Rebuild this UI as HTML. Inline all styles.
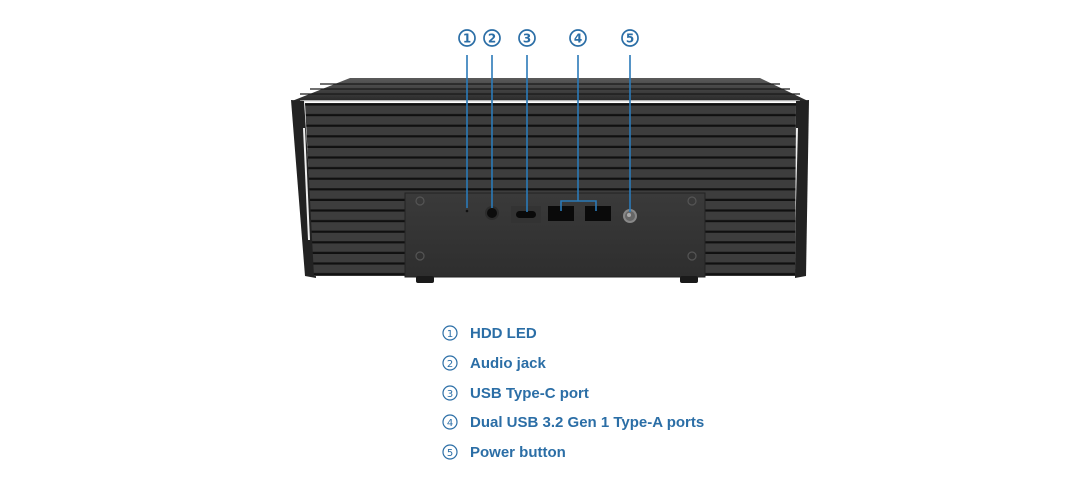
<!DOCTYPE html>
<html><head><meta charset="utf-8"><style>
html,body{margin:0;padding:0;background:#fff;width:1069px;height:504px;overflow:hidden}
svg{display:block}
.t{font-family:"Liberation Sans","DejaVu Sans",sans-serif;font-weight:bold;font-size:15px;fill:#2b6ea6}
.n{font-family:"DejaVu Sans","Liberation Sans",sans-serif;font-size:12px;font-weight:bold;fill:#2b6ea6}
.m{font-family:"DejaVu Sans","Liberation Sans",sans-serif;font-size:10px;font-weight:normal;fill:#2b6ea6}
</style></head><body>
<svg width="1069" height="504" viewBox="0 0 1069 504" xmlns="http://www.w3.org/2000/svg">
<defs>
<pattern id="fins" x="0" y="95" width="10" height="10.6" patternUnits="userSpaceOnUse">
<rect width="10" height="10.6" fill="#3d3d3d"/><rect y="8.4" width="10" height="2.2" fill="#101010"/>
</pattern>
<linearGradient id="top" x1="0" y1="0" x2="0" y2="1"><stop offset="0" stop-color="#5a5a5a"/><stop offset="1" stop-color="#2a2a2a"/></linearGradient>
<linearGradient id="panel" x1="0" y1="0" x2="0" y2="1"><stop offset="0" stop-color="#3a3a3a"/><stop offset="1" stop-color="#2e2e2e"/></linearGradient>
</defs>
<polygon points="292,101 350,78 760,78 808,101" fill="url(#top)"/>
<g stroke="#1a1a1a" stroke-width="1.2">
<line x1="320" y1="84" x2="780" y2="84"/><line x1="310" y1="89" x2="790" y2="89"/><line x1="300" y1="94" x2="800" y2="94"/>
</g>
<line x1="300" y1="101" x2="800" y2="101" stroke="#ddd" stroke-width="1.5"/>
<polygon points="291,100 304,101 316,278 305,276" fill="#222"/>
<line x1="304" y1="128" x2="309" y2="240" stroke="#eee" stroke-width="2"/>
<polygon points="796,101 809,100 806,276 795,278" fill="#222"/>
<line x1="797" y1="128" x2="794" y2="240" stroke="#eee" stroke-width="2"/>
<polygon points="305,103 796,103 795,276 314,276" fill="url(#fins)"/>
<rect x="405" y="193" width="300" height="84" fill="url(#panel)"/>
<rect x="405" y="193" width="300" height="84" fill="none" stroke="#222" stroke-width="1"/>
<g fill="none" stroke="#555" stroke-width="1.2">
<circle cx="420" cy="201" r="4"/><circle cx="692" cy="201" r="4"/><circle cx="420" cy="256" r="4"/><circle cx="692" cy="256" r="4"/>
</g>
<rect x="416" y="276" width="18" height="7" rx="2" fill="#1a1a1a"/><rect x="680" y="276" width="18" height="7" rx="2" fill="#1a1a1a"/>
<circle cx="467" cy="211" r="1.3" fill="#111"/>
<circle cx="492" cy="213" r="7" fill="#2c2c2c"/><circle cx="492" cy="213" r="5" fill="#0c0c0c"/>
<rect x="511" y="206" width="30" height="17" fill="#333"/><rect x="516" y="211" width="20" height="7" rx="3.5" fill="#0a0a0a"/>
<rect x="548" y="206" width="26" height="15" fill="#0a0a0a"/><rect x="585" y="206" width="26" height="15" fill="#0a0a0a"/>
<circle cx="630" cy="216" r="7" fill="#888"/><circle cx="630" cy="216" r="5" fill="#666"/><circle cx="629" cy="215" r="2" fill="#aaa"/>
<g stroke="#2b7ab8" stroke-width="1.6" fill="none">
<line x1="467" y1="55" x2="467" y2="208"/><line x1="492" y1="55" x2="492" y2="208"/><line x1="527" y1="55" x2="527" y2="212"/>
<line x1="578" y1="55" x2="578" y2="201"/><polyline points="561,211 561,201 596,201 596,211"/>
<line x1="630" y1="55" x2="630" y2="212"/>
</g>
<g fill="none" stroke="#2b6ea6" stroke-width="1.7">
<circle cx="467" cy="38" r="8"/><circle cx="492" cy="38" r="8"/><circle cx="527" cy="38" r="8"/><circle cx="578" cy="38" r="8"/><circle cx="630" cy="38" r="8"/>
</g>
<g class="n" text-anchor="middle">
<text x="467" y="42.5">1</text><text x="492" y="42.5">2</text><text x="527" y="42.5">3</text><text x="578" y="42.5">4</text><text x="630" y="42.5">5</text>
</g>
<g fill="none" stroke="#2b6ea6" stroke-width="1.2">
<circle cx="450" cy="333" r="7"/><circle cx="450" cy="363" r="7"/><circle cx="450" cy="393" r="7"/><circle cx="450" cy="422" r="7"/><circle cx="450" cy="452" r="7"/>
</g>
<g class="m" text-anchor="middle">
<text x="450" y="337">1</text><text x="450" y="367">2</text><text x="450" y="397">3</text><text x="450" y="426">4</text><text x="450" y="456">5</text>
</g>
<g class="t">
<text x="470" y="338">HDD LED</text>
<text x="470" y="368">Audio jack</text>
<text x="470" y="398">USB Type-C port</text>
<text x="470" y="427">Dual USB 3.2 Gen 1 Type-A ports</text>
<text x="470" y="457">Power button</text>
</g>
</svg>
</body></html>
